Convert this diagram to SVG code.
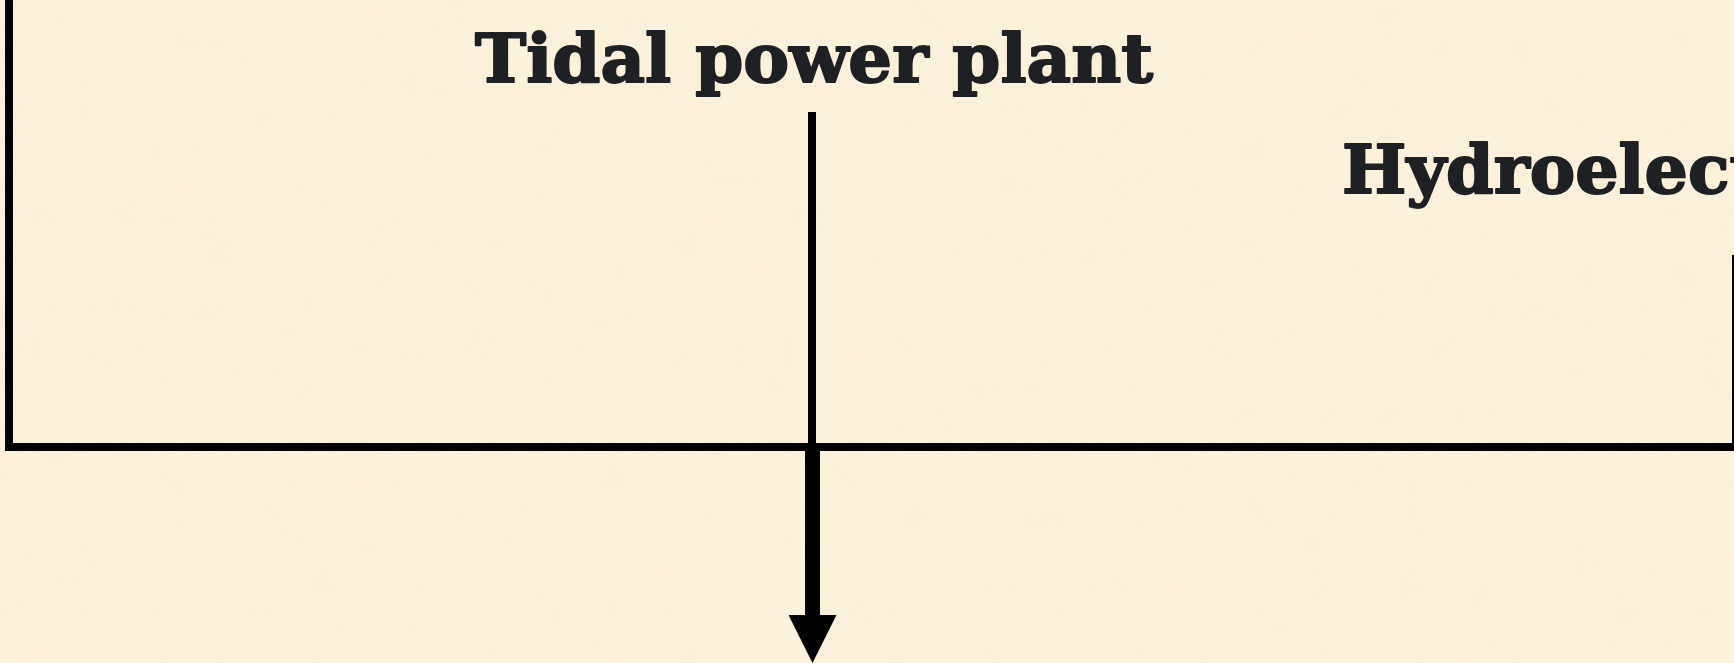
<svg xmlns="http://www.w3.org/2000/svg" width="1734" height="663" viewBox="0 0 1734 663">
  <defs>
    <style>
      .label { font-family: "DejaVu Serif", "Liberation Serif", serif; font-weight: bold; font-size: 68px; fill: #1F2024; stroke: #1F2024; stroke-width: 2; stroke-linejoin: round; }
      .wire { stroke: #000; stroke-width: 8; fill: none; }
      .flow { stroke: #000; stroke-width: 15; fill: none; }
    </style>
    <filter id="paper" x="0" y="0" width="100%" height="100%">
      <feTurbulence type="fractalNoise" baseFrequency="0.03" numOctaves="3" seed="7" result="n"/>
      <feColorMatrix in="n" type="matrix" values="0 0 0 0 0.93  0 0 0 0 0.86  0 0 0 0 0.68  0 0 0 1.5 -0.55"/>
    </filter>
    <marker id="head" viewBox="0 0 48 48" markerWidth="48" markerHeight="48" markerUnits="userSpaceOnUse" refX="0" refY="24" orient="auto">
      <path d="M0,0 L48,24 L0,48 z" fill="#000"/>
    </marker>
  </defs>
  <rect width="1734" height="663" fill="#FCF1DA"/>
  <rect width="1734" height="663" fill="#FCF1DA" filter="url(#paper)" opacity="0.5"/>

  <g id="connectors">
    <path class="wire" d="M9,0 V447 H1734"/>
    <path class="wire" d="M812,112 V447"/>
    <path class="wire" d="M1736,255 V447"/>
    <path class="flow" d="M812.5,447 V615" marker-end="url(#head)"/>
  </g>

  <g id="tidal">
    <text class="label" x="475" y="82" textLength="678" lengthAdjust="spacingAndGlyphs">Tidal power plant</text>
  </g>

  <g id="hydro">
    <text class="label" x="1342" y="193" textLength="1000" lengthAdjust="spacingAndGlyphs">Hydroelectric power plant</text>
  </g>
</svg>
